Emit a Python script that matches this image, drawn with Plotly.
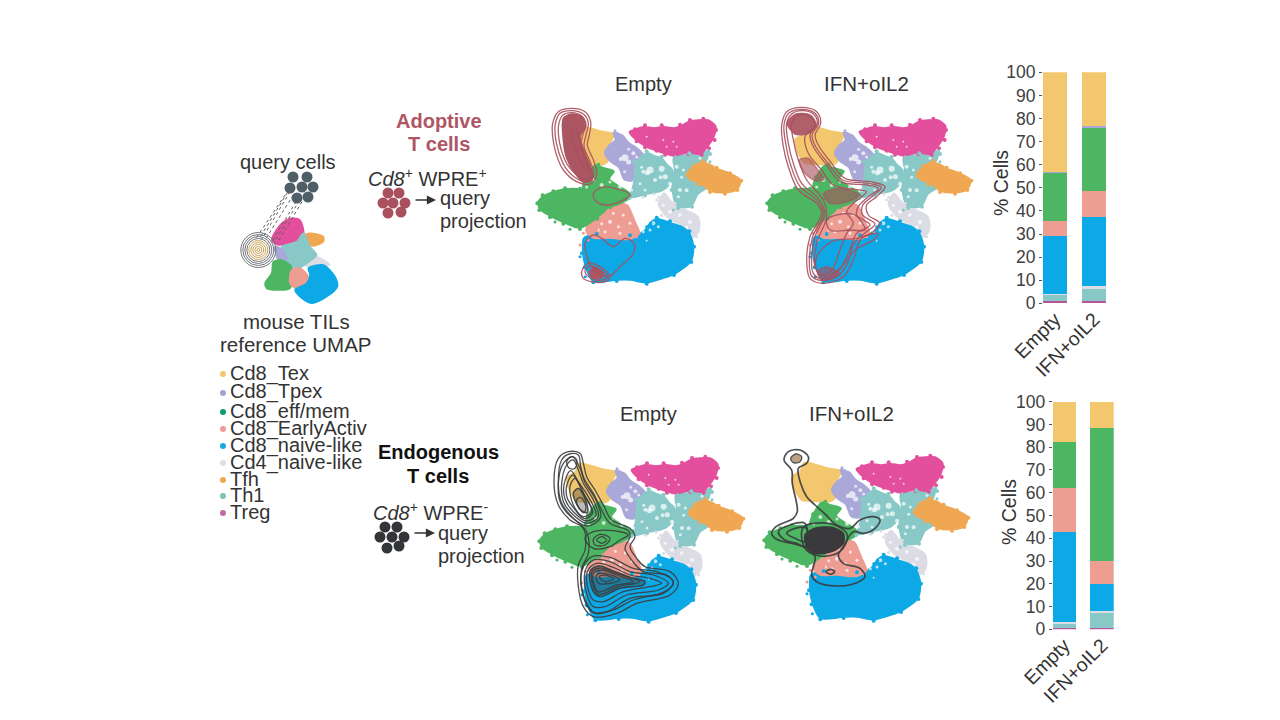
import plotly.graph_objects as go

# ---------- stacked bar data (% cells, bottom to top) ----------
conditions = ["Empty", "IFN+oIL2"]
bar_treg_top = [0.8, 0.8]
bar_th1_top = [3.0, 5.5]
bar_cd4_top = [0.4, 1.0]
bar_naive_top = [24.9, 30.1]
bar_early_top = [6.4, 11.3]
bar_eff_top = [21.1, 27.3]
bar_tpex_top = [0.1, 0.8]
bar_tex_top = [43.3, 23.2]
bar_treg_bot = [0.7, 0.7]
bar_th1_bot = [2.1, 6.8]
bar_cd4_bot = [0.6, 0.7]
bar_naive_bot = [39.5, 11.8]
bar_early_bot = [19.4, 10.2]
bar_eff_bot = [20.2, 58.3]
bar_tpex_bot = [0.0, 0.0]
bar_tex_bot = [17.5, 11.5]
pct_ticks = [0, 10, 20, 30, 40, 50, 60, 70, 80, 90, 100]

# ---------- colours ----------
C_TEX = "#F3C76E"; C_TPEX = "#A9A8D8"; C_EFF = "#4DB663"; C_EARLY = "#EE9D93"
C_NAIVE = "#0DA9E6"; C_CD4 = "#DCDCE5"; C_TFH = "#F0A752"; C_TH1 = "#88C9C8"
C_TREG = "#E34F9D"; C_BAR_TREG = "#B5559A"
C_ADOPT = "#A9505E"; C_ENDO = "#3A3D3F"; C_TXT = "#333333"

# ---------- UMAP cluster outlines (UMAP units) ----------
poly_tex = [(130,132),(142,106),(180,114),(215,124),(252,132),(240,160),(226,185),(234,212),(218,224),(190,224),(160,222),(135,220),(112,185),(105,148)]
poly_tpex = [(250,128),(262,130),(278,136),(296,158),(318,172),(340,195),(322,215),(314,240),(306,272),(282,268),(266,232),(240,214),(224,190),(238,165),(256,150)]
poly_th1a = [(318,216),(335,198),(352,188),(375,198),(394,204),(412,224),(428,240),(428,270),(400,300),(352,312),(300,322),(310,284)]
poly_th1b = [(430,206),(452,196),(478,194),(506,186),(534,188),(528,214),(494,234),(480,256),(506,270),(534,290),(504,312),(484,348),(442,350),(426,292),(434,240)]
poly_treg = [(298,126),(320,116),(342,110),(372,114),(402,110),(430,114),(452,108),(478,94),(505,90),(534,90),(557,108),(552,140),(534,168),(512,192),(472,188),(432,198),(402,190),(352,172),(318,150)]
poly_tfh = [(470,252),(488,232),(515,216),(537,222),(562,236),(590,246),(632,270),(622,298),(585,308),(543,304),(510,280),(480,268)]
poly_cd4 = [(385,342),(392,322),(402,310),(422,332),(442,352),(472,362),(504,380),(508,420),(490,442),(462,408),(422,390),(392,358)]
poly_early = [(205,372),(232,352),(262,338),(292,345),(306,372),(314,392),(328,430),(300,448),(240,444),(190,444),(168,424),(178,396)]
poly_naive = [(163,442),(205,434),(240,440),(310,438),(345,420),(362,396),(382,386),(420,398),(452,408),(476,426),(490,465),(484,512),(434,552),(395,566),(350,578),(300,570),(260,570),(190,574),(166,528),(158,482)]
poly_eff_low = [(24,336),(40,318),(62,308),(100,298),(150,298),(200,328),(234,350),(200,384),(150,414),(102,398),(60,378),(30,358)]
poly_eff_up = [(195,226),(222,234),(252,244),(238,266),(262,285),(294,305),(302,320),(252,348),(200,344),(158,304),(164,270)]

# white gaps inside the clusters (UMAP units)
gap_x = [285,272,296,310,320,284,360,352,395,406,375,340,330,415,345,440,460,450,445,470,420,215,240,265,250,280,225,300,205,270,370,385,340,360,400,410,350,440,430,190,215,240,270,170,420,450,480,470,400,305,335,455,245,296,392,350,510]
gap_y = [203,207,216,190,201,245,240,248,236,260,270,245,281,215,300,230,240,300,320,301,281,401,395,410,370,375,425,400,420,430,400,410,425,420,150,170,140,170,155,270,285,276,290,291,365,376,396,411,346,300,232,262,225,178,262,452,205]
gap_size = [7,4,5,4,3,3,7,5,6,5,4,4,3,4,3,4,3,4,3,4,4,3,4,3,3,3,3,3,3,3,4,3,3,3,2,2,2,2,2,4,4,3,4,3,4,4,4,3,3,3,3,3,3,3,4,2,3]

# stray cells and ragged cluster edges (UMAP units)
stray_x = [255,262,372,386,398,410,380,392,420,436,470,340,350,320,160,175,150,75,120,135,200,328,362,395,500,430,455,170,490,540,372,166,150]
stray_y = [122,130,312,322,318,335,330,340,345,340,382,322,410,440,430,450,465,396,418,410,420,428,400,376,440,360,380,280,300,215,568,560,500]
stray_c = [C_TPEX,C_TPEX,C_CD4,C_CD4,C_CD4,C_CD4,C_CD4,C_CD4,C_CD4,C_CD4,C_CD4,C_CD4,C_NAIVE,C_EARLY,C_EARLY,C_EARLY,C_EARLY,C_EFF,C_EFF,C_EFF,C_EARLY,C_EARLY,C_NAIVE,C_CD4,C_CD4,C_TH1,C_CD4,C_EFF,C_TH1,C_TH1,C_NAIVE,C_NAIVE,C_NAIVE]
edge_treg_x = [305,315,345,395,450,480,520,558,554,537,515,475,435,405,380,345,320]
edge_treg_y = [130,118,106,106,104,90,86,120,150,175,194,192,202,194,182,172,154]
edge_tfh_x = [473,490,520,560,600,634,622,585,540,505]
edge_tfh_y = [256,228,213,233,250,272,300,311,306,283]
edge_naive_x = [163,156,164,190,260,350,432,484,492,478,420,380,200,300]
edge_naive_y = [450,490,532,577,573,581,555,516,470,424,394,383,432,436]
edge_eff_x = [22,38,70,105,150,60,100,150,202,28,240,205,168]
edge_eff_y = [340,316,304,295,296,382,401,417,386,360,352,224,262]
edge_th1_x = [312,350,395,436,478,534,540,486,444,425,298,345]
edge_th1_y = [214,184,200,202,190,184,192,350,354,300,324,316]

# ---------- density contours, adoptive / Empty ----------
a1_fill = [(100,85),(125,72),(155,80),(166,110),(150,140),(165,190),(185,240),(186,270),(160,276),(135,250),(110,205),(100,150)]
a1_low_fill = [(178,545),(196,532),(220,555),(212,566),(186,562)]
a1_c1 = [(68,100),(85,65),(125,55),(165,65),(182,95),(178,135),(172,165),(192,215),(200,255),(180,282),(140,275),(100,240),(78,190),(68,140)]
a1_c2 = [(76,102),(90,70),(125,62),(160,72),(175,98),(168,135),(162,168),(182,218),(192,252),(176,276),(142,267),(106,232),(86,186),(76,140)]
a1_c3 = [(86,104),(98,76),(125,68),(155,78),(168,102),(158,136),(152,170),(172,222),(186,250),(170,270),(144,258),(112,224),(94,180),(86,140)]
a1_c4 = [(136,110),(148,150),(166,205),(176,245),(160,232),(138,180),(126,130)]
a1_c5 = [(155,545),(175,520),(210,530),(240,560),(225,575),(185,575),(160,565)]
a1_c6 = [(165,545),(180,528),(208,538),(232,560),(220,570),(188,568)]
a1_c7 = [(190,312),(215,292),(255,295),(300,315),(270,335),(230,345),(200,335)]
a1_c8 = [(165,460),(190,435),(215,445),(250,470),(285,445),(312,460),(310,490),(270,530),(235,560),(185,530),(170,495)]

# ---------- density contours, adoptive / IFN+oIL2 ----------
b1_fill = [(82,100),(108,72),(152,76),(168,105),(145,130),(105,132)]
b1_fill2 = [(118,210),(145,205),(170,235),(192,268),(165,272),(135,250)]
b1_fill3 = [(190,312),(235,295),(300,315),(262,335),(210,340)]
b1_fill4 = [(172,545),(200,530),(240,552),(215,566),(182,565)]
b1_c1 = [(65,105),(80,65),(125,52),(170,65),(182,100),(165,135),(175,165),(215,220),(255,265),(330,275),(375,290),(350,320),(320,345),(325,375),(360,400),(340,425),(300,450),(280,510),(250,560),(190,580),(150,565),(140,510),(150,440),(185,370),(170,340),(115,300),(85,230),(70,170)]
b1_c2 = [(72,105),(86,70),(125,58),(165,70),(176,100),(156,135),(166,168),(206,222),(248,270),(326,280),(364,292),(338,318),(308,346),(308,375),(345,402),(316,428),(282,460),(262,520),(236,556),(190,572),(155,558),(148,505),(158,440),(190,372),(172,332),(120,290),(92,225),(78,165)]
b1_c3 = [(80,100),(95,72),(125,62),(160,72),(172,100),(150,135),(160,170),(200,225),(240,275),(320,285),(355,295),(325,320),(295,350),(290,375),(330,405),(290,430),(265,490),(230,550),(190,568),(160,550),(155,500),(165,440),(195,370),(175,325),(125,280),(100,220),(85,160)]
b1_c4 = [(95,100),(115,75),(150,80),(165,105),(135,140),(145,190),(185,240),(220,285),(300,300),(320,305),(280,340),(260,365),(280,400),(260,430),(240,480),(215,540),(185,555),(165,530),(170,460),(200,380),(190,330),(140,270),(115,210),(100,150)]
b1_c5 = [(170,500),(215,455),(290,445),(355,430),(340,450),(285,480),(245,530),(200,560),(172,545)]
b1_c6 = [(200,390),(245,372),(285,375),(315,420),(270,420),(210,420)]

# ---------- density contours, endogenous / Empty ----------
c1_outer = [(85,55),(115,35),(150,40),(160,70),(170,110),(195,150),(220,195),(245,240),(300,265),(315,290),(300,320),(320,355),(345,380),(420,395),(445,430),(420,465),(320,490),(260,520),(190,530),(160,500),(145,440),(145,375),(165,330),(160,265),(120,240),(85,195),(72,130)]
c1_next = [(95,60),(118,42),(145,45),(152,80),(162,115),(190,160),(215,210),(240,250),(295,272),(300,290),(285,325),(305,360),(340,395),(410,405),(430,430),(405,455),(310,480),(250,510),(195,520),(170,490),(155,440),(155,385),(175,340),(170,275),(125,230),(95,190),(85,130)]
c1_t0 = [(85,130),(100,70),(128,50),(150,85),(165,128),(195,175),(212,232),(172,258),(125,232),(92,190)]
c1_t1 = [(95,130),(110,75),(130,60),(145,90),(160,130),(190,180),(205,230),(170,250),(130,225),(100,185)]
c1_t2 = [(102,135),(122,92),(145,125),(178,175),(198,226),(168,243),(133,218),(106,180)]
c1_t3 = [(110,138),(128,105),(158,155),(188,218),(164,236),(132,205),(112,175)]
c1_t4 = [(120,140),(135,115),(165,170),(185,215),(160,230),(130,195)]
c1_t5 = [(130,160),(145,145),(170,190),(172,218),(150,208)]
c1_t6 = [(140,180),(152,172),(168,200),(162,218),(148,205)]
c1_t7 = [(110,65),(125,50),(140,60),(135,85),(118,85)]
c1_m1 = [(165,295),(190,275),(250,272),(295,285),(270,300),(240,320),(190,325)]
c1_m2 = [(190,298),(210,283),(240,295),(225,315),(195,315)]
c1_m3 = [(200,300),(215,290),(230,300),(215,310)]
c1_l1 = [(155,395),(185,350),(240,352),(310,385),(380,395),(430,425),(400,460),(300,475),(230,515),(185,515),(160,470)]
c1_l2 = [(165,395),(190,360),(240,365),(300,395),(370,405),(415,430),(385,450),(290,465),(225,500),(190,500),(170,460)]
c1_l3 = [(172,395),(200,370),(250,382),(300,405),(360,415),(395,430),(360,440),(280,455),(220,485),(190,480),(175,450)]
c1_l4 = [(180,395),(205,378),(255,395),(300,412),(345,425),(340,435),(270,445),(210,470),(190,455)]
c1_l5 = [(190,400),(215,390),(260,405),(310,425),(260,435),(205,455)]
c1_l6 = [(200,405),(225,400),(270,420),(225,432),(205,430)]
c1_l7 = [(185,398),(210,384),(258,400),(328,425),(265,440),(205,462)]
c1_l8 = [(208,410),(225,405),(250,416),(225,425)]

# ---------- density contours, endogenous / IFN+oIL2 ----------
d1_blob = [(135,285),(165,265),(215,262),(250,280),(250,310),(215,335),(165,340),(140,320)]
d1_outer = [(72,60),(85,35),(120,30),(145,50),(140,70),(115,85),(122,130),(140,170),(165,195),(195,222),(230,255),(270,265),(300,240),(340,230),(360,240),(345,265),(310,280),(280,275),(250,320),(235,345),(250,370),(300,385),(315,410),(290,428),(230,438),(170,425),(155,405),(165,350),(130,320),(50,298),(35,280),(48,260),(100,235),(112,215),(97,130),(95,90)]
d1_i1 = [(55,275),(90,255),(135,250),(135,320),(110,310),(75,300)]
d1_i2 = [(80,280),(105,265),(140,265),(140,305),(105,295)]
d1_i3 = [(130,262),(215,252),(262,285),(240,335),(180,348),(135,325)]
d1_t1 = [(92,55),(108,42),(125,50),(120,65),(100,68)]
d1_s1 = [(198,395),(212,388),(224,395),(212,403)]

# ---------- reference UMAP miniature ----------
mini_treg = [(185,300),(215,250),(245,235),(270,240),(280,290),(235,310),(205,315)]
mini_tfh = [(275,290),(300,280),(340,290),(340,305),(310,318),(285,310)]
mini_th1 = [(215,320),(260,305),(280,280),(300,320),(320,345),(290,370),(265,385),(235,370),(220,345)]
mini_tpex = [(195,320),(220,330),(230,360),(205,360)]
mini_eff = [(165,430),(185,400),(190,365),(215,360),(245,380),(250,400),(240,445),(200,450),(170,445)]
mini_early = [(245,390),(270,385),(295,410),(290,435),(265,450),(240,430)]
mini_naive = [(295,385),(340,375),(375,410),(382,440),(350,470),(305,490),(270,470),(255,450),(290,430),(300,405)]
mini_cd4 = [(275,360),(320,350),(360,375),(320,378),(290,380)]
mini_ring_sizes = [35, 31, 27, 23]
mini_tan_sizes = [19, 15, 11, 7, 3]
mini_ring_x = [145]
mini_ring_y = [330]
link_a = [(225,165),(232,158),(240,155),(250,165),(258,185),(268,182),(276,185)]
link_b = [(140,292),(148,295),(155,298),(165,300),(185,305),(192,308),(200,312)]

# ---------- seven-cell icons (page pixels) ----------
query_x = [293,307,290,302,313,297,308]
query_y = [177,177,188,187,187,198,197]
adopt_x = [388,399,383,393,405,388,401]
adopt_y = [193,193,203,203,203,213,212]
endo_x = [385,397,380,392,404,387,399]
endo_y = [527,527,537,537,537,548,546]

# ---------- legend ----------
legend_names = ["Cd8_Tex","Cd8_Tpex","Cd8_eff/mem","Cd8_EarlyActiv","Cd8_naive-like","Cd4_naive-like","Tfh","Th1","Treg"]
legend_cols = ["#F2C66D","#9FA6CF","#0E9E6E","#EC9C9A","#1EA6E0","#DCDDE8","#EFA650","#82BFB8","#C26BA3"]
legend_dot_x = [223,223,223,223,223,223,223,223,223]
legend_y = [374,393,412,429,446,463,480,496,513]

fig = go.Figure()
layout = {}
axis_count = [1]
W, H = 1280.0, 720.0
layout["xaxis"] = dict(domain=[0, 1], range=[0, 1280], visible=False, fixedrange=True, automargin=False)
layout["yaxis"] = dict(domain=[0, 1], range=[720, 0], visible=False, fixedrange=True, automargin=False)


def window(px, py, pw=220, ph=200, sx=3):
    axis_count[0] += 1
    n = axis_count[0]
    layout[f"xaxis{n}"] = dict(domain=[px / W, (px + pw) / W], range=[0, pw * sx], visible=False,
                               anchor=f"y{n}", fixedrange=True, automargin=False)
    layout[f"yaxis{n}"] = dict(domain=[1 - (py + ph) / H, 1 - py / H], range=[ph * sx, 0], visible=False,
                               anchor=f"x{n}", fixedrange=True, automargin=False)
    return f"x{n}", f"y{n}"


def blob(poly, color, ax, opacity=1.0):
    xs = [p[0] for p in poly] + [poly[0][0]]
    ys = [p[1] for p in poly] + [poly[0][1]]
    fig.add_trace(go.Scatter(x=xs, y=ys, xaxis=ax[0], yaxis=ax[1], mode="lines", fill="toself",
                             fillcolor=color, opacity=opacity,
                             line=dict(color=color, width=1.5, shape="spline", smoothing=0.8),
                             hoverinfo="skip", showlegend=False))


def ring(poly, color, ax, width=1.3, fill=None, opacity=0.9):
    xs = [p[0] for p in poly] + [poly[0][0]]
    ys = [p[1] for p in poly] + [poly[0][1]]
    fig.add_trace(go.Scatter(x=xs, y=ys, xaxis=ax[0], yaxis=ax[1], mode="lines",
                             line=dict(color=color, width=width, shape="spline", smoothing=1.0),
                             opacity=opacity, fill="toself" if fill else None, fillcolor=fill,
                             hoverinfo="skip", showlegend=False))


def clusters(ax):
    for poly, col in [(poly_tex, C_TEX), (poly_tpex, C_TPEX), (poly_th1a, C_TH1), (poly_th1b, C_TH1),
                      (poly_treg, C_TREG), (poly_tfh, C_TFH), (poly_cd4, C_CD4), (poly_naive, C_NAIVE),
                      (poly_early, C_EARLY), (poly_eff_up, C_EFF), (poly_eff_low, C_EFF)]:
        blob(poly, col, ax)
    for ex, ey, col in [(edge_treg_x, edge_treg_y, C_TREG), (edge_tfh_x, edge_tfh_y, C_TFH),
                        (edge_naive_x, edge_naive_y, C_NAIVE), (edge_eff_x, edge_eff_y, C_EFF),
                        (edge_th1_x, edge_th1_y, C_TH1)]:
        fig.add_trace(go.Scatter(x=ex, y=ey, xaxis=ax[0], yaxis=ax[1], mode="markers",
                                 marker=dict(color=col, size=4, line=dict(width=0)),
                                 hoverinfo="skip", showlegend=False))
    fig.add_trace(go.Scatter(x=gap_x, y=gap_y, xaxis=ax[0], yaxis=ax[1], mode="markers",
                             marker=dict(color="white", size=gap_size, line=dict(width=0)),
                             hoverinfo="skip", showlegend=False))
    fig.add_trace(go.Scatter(x=stray_x, y=stray_y, xaxis=ax[0], yaxis=ax[1], mode="markers",
                             marker=dict(color=stray_c, size=3, line=dict(width=0)),
                             hoverinfo="skip", showlegend=False))


# --- panels ---
p1 = window(530, 90); clusters(p1)
blob(a1_fill, "#AC5663", p1); blob(a1_low_fill, "#AC5663", p1)
for c in [a1_c1, a1_c2, a1_c3, a1_c4, a1_c5, a1_c6, a1_c7, a1_c8]:
    ring(c, C_ADOPT, p1)

p2 = window(760, 90); clusters(p2)
blob(b1_fill, "#B0606A", p2)
for f in [b1_fill2, b1_fill3, b1_fill4]:
    blob(f, "rgba(169,80,94,0.62)", p2)
for c in [b1_c1, b1_c2, b1_c3, b1_c4, b1_c5, b1_c6]:
    ring(c, C_ADOPT, p2)

p3c = window(532, 428); clusters(p3c)
p3 = window(530, 440)
blob(c1_l4, "rgba(58,61,63,0.42)", p3)
blob(c1_t5, "rgba(58,61,63,0.35)", p3)
for c in [c1_outer, c1_next, c1_t0, c1_t1, c1_t2, c1_t3, c1_t4, c1_t5, c1_t6, c1_t7, c1_m1, c1_m2, c1_m3,
          c1_l1, c1_l2, c1_l3, c1_l4, c1_l5, c1_l6, c1_l7, c1_l8]:
    ring(c, C_ENDO, p3)

p4c = window(757, 427); clusters(p4c)
p4 = window(760, 440)
blob(d1_blob, "#3A3A3C", p4)
ring(d1_t1, C_ENDO, p4, fill="rgba(150,110,60,0.7)")
for c in [d1_outer, d1_i1, d1_i2, d1_i3, d1_s1]:
    ring(c, C_ENDO, p4, width=1.7)

# --- miniature ---
pm = window(210, 140, 170, 170)
for poly, col in [(mini_cd4, C_CD4), (mini_treg, C_TREG), (mini_tfh, C_TFH), (mini_th1, C_TH1),
                  (mini_tpex, C_TPEX), (mini_eff, C_EFF), (mini_early, C_EARLY), (mini_naive, C_NAIVE)]:
    blob(poly, col, pm)
for a, b in zip(link_a, link_b):
    fig.add_trace(go.Scatter(x=[a[0], b[0]], y=[a[1], b[1]], xaxis=pm[0], yaxis=pm[1], mode="lines",
                             line=dict(color="#5E5E5E", width=1, dash="dot"), hoverinfo="skip", showlegend=False))
for s in mini_ring_sizes:
    fig.add_trace(go.Scatter(x=mini_ring_x, y=mini_ring_y, xaxis=pm[0], yaxis=pm[1], mode="markers",
                             marker=dict(symbol="circle-open", size=s, color="#70767A", line=dict(width=1, color="#70767A")),
                             hoverinfo="skip", showlegend=False))
for s in mini_tan_sizes:
    fig.add_trace(go.Scatter(x=mini_ring_x, y=mini_ring_y, xaxis=pm[0], yaxis=pm[1], mode="markers",
                             marker=dict(symbol="circle-open", size=s, color="#C9A35A", line=dict(width=1, color="#C9A35A")),
                             hoverinfo="skip", showlegend=False))

# --- cell icons & legend dots on the page axes ---
for xs, ys, col, sz in [(query_x, query_y, "#4F5F68", 11), (adopt_x, adopt_y, "#A9505E", 11), (endo_x, endo_y, "#333538", 11)]:
    fig.add_trace(go.Scatter(x=xs, y=ys, mode="markers", marker=dict(color=col, size=sz, line=dict(width=0)),
                             hoverinfo="skip", showlegend=False))
fig.add_trace(go.Scatter(x=legend_dot_x, y=legend_y, mode="markers",
                         marker=dict(color=legend_cols, size=6, line=dict(width=0)), hoverinfo="skip", showlegend=False))


# --- stacked bars ---
def bars(px_left, px_right, py_top, py_bot, series):
    axis_count[0] += 1
    n = axis_count[0]
    layout[f"xaxis{n}"] = dict(domain=[px_left / W, px_right / W], range=[-0.31, 1.31], anchor=f"y{n}",
                               type="category", categoryorder="array", categoryarray=conditions,
                               tickangle=-45, ticks="", showline=False, showgrid=False, fixedrange=True,
                               automargin=False,
                               tickfont=dict(family="Liberation Sans", size=19.5, color=C_TXT))
    layout[f"yaxis{n}"] = dict(domain=[1 - py_bot / H, 1 - py_top / H], range=[0, 100], anchor=f"x{n}",
                               tickvals=pct_ticks, ticks="outside", ticklen=3, tickwidth=1, tickcolor="#555555",
                               showline=False, showgrid=False, zeroline=False, fixedrange=True,
                               automargin=False,
                               tickfont=dict(family="Liberation Sans", size=17.5, color="#404040"))
    for vals, col in series:
        fig.add_trace(go.Bar(x=conditions, y=vals, width=0.615, marker=dict(color=col, line=dict(width=0)),
                             xaxis=f"x{n}", yaxis=f"y{n}", hoverinfo="skip", showlegend=False))


bars(1043, 1106, 72.3, 303.3, [(bar_treg_top, C_BAR_TREG), (bar_th1_top, C_TH1), (bar_cd4_top, C_CD4),
                               (bar_naive_top, C_NAIVE), (bar_early_top, C_EARLY), (bar_eff_top, C_EFF),
                               (bar_tpex_top, C_TPEX), (bar_tex_top, C_TEX)])
bars(1052.7, 1113.7, 401.7, 629.3, [(bar_treg_bot, C_BAR_TREG), (bar_th1_bot, C_TH1), (bar_cd4_bot, C_CD4),
                                    (bar_naive_bot, C_NAIVE), (bar_early_bot, C_EARLY), (bar_eff_bot, C_EFF),
                                    (bar_tpex_bot, C_TPEX), (bar_tex_bot, C_TEX)])

# --- text ---
anns = []


def txt(x, y, s, size=20, color=C_TXT, anchor="center", angle=0):
    anns.append(dict(x=x / W, y=1 - y / H, xref="paper", yref="paper", text=s, showarrow=False,
                     xanchor=anchor, yanchor="middle", textangle=angle,
                     font=dict(family="Liberation Sans", size=size, color=color)))


txt(643, 84, "Empty", 20); txt(866, 83, "IFN+oIL2", 20.5)
txt(648, 414, "Empty", 20); txt(851, 413, "IFN+oIL2", 20.5)
txt(439, 121, "<b>Adoptive</b>", 20, "#AF5563"); txt(439, 144, "<b>T cells</b>", 20, "#AF5563")
txt(427, 177, "<i>Cd8</i><sup>+</sup> WPRE<sup>+</sup>", 20)
txt(438, 198, "query", 20, anchor="left"); txt(438, 221, "projection", 20, anchor="left")
txt(438, 452, "<b>Endogenous</b>", 20, "#111111"); txt(438, 476, "<b>T cells</b>", 20, "#111111")
txt(430, 511, "<i>Cd8</i><sup>+</sup> WPRE<sup>-</sup>", 20)
txt(436, 533, "query", 20, anchor="left"); txt(436, 556, "projection", 20, anchor="left")
txt(288, 162, "query cells", 20)
txt(296, 321, "mouse TILs", 20.5); txt(296, 344, "reference UMAP", 20.5)
txt(1001, 183, "% Cells", 19.5, angle=-90); txt(1009, 512, "% Cells", 19.5, angle=-90)
for name, yy in zip(legend_names, legend_y):
    txt(228, yy - 1, name, 20, anchor="left")

for (x0, x1, y0) in [(414, 436, 200), (413, 435, 533)]:
    anns.append(dict(x=x1, y=y0, ax=x0, ay=y0, xref="x", yref="y",
                     axref="x", ayref="y", text="", showarrow=True, arrowhead=2, arrowsize=1.4,
                     arrowwidth=1.3, arrowcolor="#333333"))

fig.update_layout(width=1280, height=720, margin=dict(l=0, r=0, t=0, b=0), autosize=False,
                  paper_bgcolor="white", plot_bgcolor="rgba(0,0,0,0)", barmode="stack", showlegend=False,
                  annotations=anns, **layout)
fig.write_html("out.html", config=dict(displayModeBar=False),
               post_script="document.body.style.margin='0';document.body.style.overflow='hidden';")
